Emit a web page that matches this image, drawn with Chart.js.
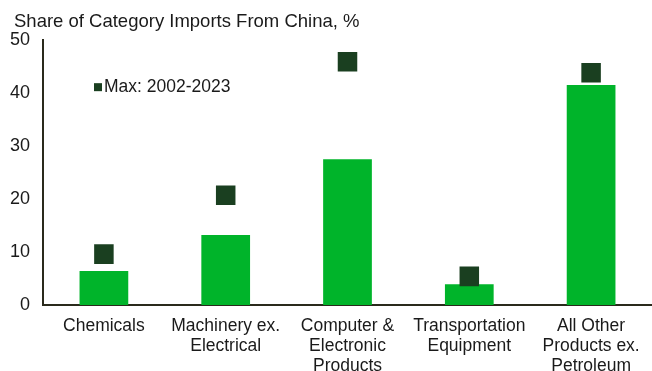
<!DOCTYPE html>
<html>
<head>
<meta charset="utf-8">
<script src="https://cdn.jsdelivr.net/npm/chart.js@4.4.1/dist/chart.umd.min.js"></script>
<style>
  html, body { margin: 0; padding: 0; background: #fff; }
  #wrap { width: 652px; height: 371px; position: relative; }
</style>
</head>
<body>
<div id="wrap"><canvas id="importsChart"></canvas></div>
<script>
// Share of category imports from China, %
const categories = [
  ["Chemicals"],
  ["Machinery ex.", "Electrical"],
  ["Computer &", "Electronic", "Products"],
  ["Transportation", "Equipment"],
  ["All Other", "Products ex.", "Petroleum"]
];
const latestShare = [6.4, 13.2, 27.5, 3.9, 41.5];
const maxShare = [9.6, 20.7, 45.9, 5.4, 43.8];
const yTicks = [0, 10, 20, 30, 40, 50];

const titleText = "Share of Category Imports From China, %";
const FONT = "Arial, 'Liberation Sans', sans-serif";
const TEXT = "#1a1a1a";
const BAR_GREEN = "#00b42a";
const MAX_GREEN = "#1a3f20";

// title in the top-left corner and the legend entry inside the plot
const annotate = {
  id: "annotate",
  afterDraw(chart) {
    const ctx = chart.ctx;
    const area = chart.chartArea;
    ctx.save();
    ctx.fillStyle = TEXT;
    ctx.font = "18.5px " + FONT;
    ctx.textBaseline = "middle";
    ctx.textAlign = "left";
    ctx.fillText(titleText, 14, 22);

    const ds = chart.data.datasets[0];
    const lx = area.left + 51;
    const ly = chart.scales.y.getPixelForValue(41.1);
    ctx.fillStyle = ds.backgroundColor;
    ctx.fillRect(lx, ly - 4, 8, 8);
    ctx.fillStyle = TEXT;
    ctx.font = "17.5px " + FONT;
    ctx.fillText(ds.label, lx + 10, ly);
    ctx.restore();
  }
};

new Chart(document.getElementById("importsChart"), {
  data: {
    labels: categories,
    datasets: [
      {
        type: "line",
        label: "Max: 2002-2023",
        data: maxShare,
        showLine: false,
        pointStyle: "rect",
        pointRadius: 13.8,
        pointHoverRadius: 13.8,
        backgroundColor: MAX_GREEN,
        borderColor: MAX_GREEN,
        borderWidth: 0,
        order: 0
      },
      {
        type: "bar",
        label: "Latest",
        data: latestShare,
        backgroundColor: BAR_GREEN,
        borderWidth: 0,
        barPercentage: 0.8,
        categoryPercentage: 0.5,
        order: 1
      }
    ]
  },
  plugins: [annotate],
  options: {
    responsive: true,
    maintainAspectRatio: false,
    animation: false,
    layout: { autoPadding: false, padding: { top: 40, right: 0, bottom: 0, left: 0 } },
    plugins: {
      legend: { display: false },
      tooltip: { enabled: false }
    },
    scales: {
      x: {
        offset: true,
        grid: { display: false, drawTicks: false },
        border: { display: true, color: "#2a2a1c", width: 2 },
        ticks: {
          color: TEXT,
          font: { family: FONT, size: 17.5, lineHeight: 1.14 },
          padding: 11,
          maxRotation: 0,
          autoSkip: false
        },
        afterFit(scale) {
          scale.height = 66;
          scale.paddingLeft = 0;
          scale.paddingRight = 0;
        }
      },
      y: {
        min: 0,
        max: 50,
        afterBuildTicks(scale) { scale.ticks = yTicks.map(v => ({ value: v })); },
        grid: { display: false, drawTicks: false },
        border: { display: true, color: "#2a2a1c", width: 2 },
        ticks: {
          color: TEXT,
          font: { family: FONT, size: 18 },
          padding: 13
        },
        afterFit(scale) { scale.width = 43; }
      }
    }
  }
});
</script>
</body>
</html>
